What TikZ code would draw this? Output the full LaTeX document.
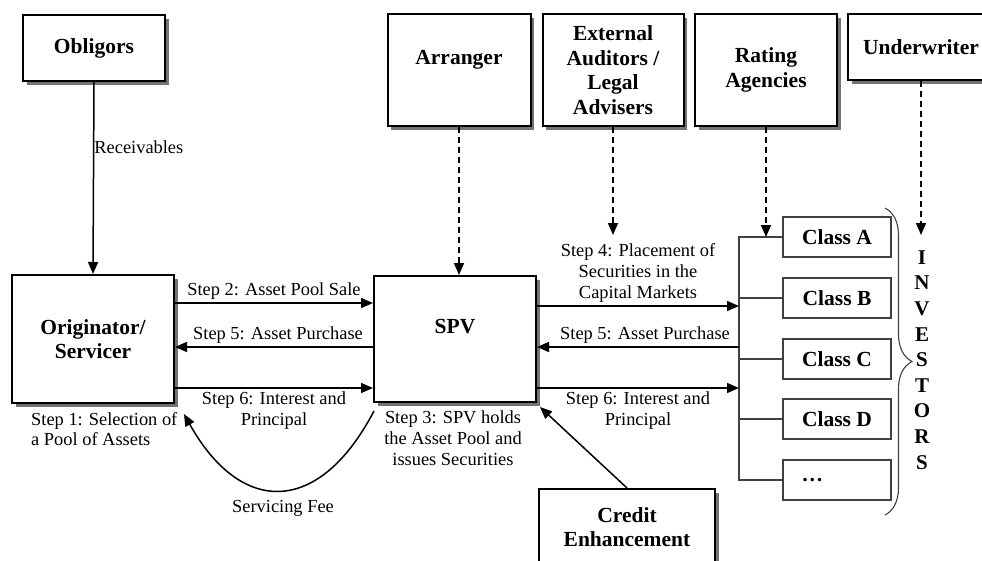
\documentclass[tikz,border=0pt]{standalone}
\usepackage{fontspec}
\setmainfont{Liberation Serif}
\usetikzlibrary{arrows.meta, decorations.pathreplacing}

\begin{document}
\begin{tikzpicture}[x=1pt, y=-1pt]
\tikzstyle{every node}+=[inner sep=0pt]
\tikzstyle{party}=[draw, line width=2pt, fill=white, align=center, font=\fontsize{21.5}{24.5}\selectfont\bfseries, preaction={fill=black!55, transform canvas={xshift=3.5pt, yshift=-3.5pt}}]
\tikzstyle{tranche}=[draw=black!75, line width=1.1pt, fill=white, minimum width=108pt, minimum height=40pt, font=\fontsize{21.5}{24.5}\selectfont\bfseries]
\tikzstyle{flow}=[line width=1.5pt, -{Triangle[length=12pt,width=10pt]}]
\tikzstyle{advice}=[flow, dash pattern=on 6pt off 4pt]
\tikzstyle{note}=[font=\fontsize{18.4}{20.8}\selectfont, align=center]
\useasboundingbox (0,0) rectangle (982,560);

\node[party, minimum width=142pt, minimum height=66pt] (obl) at (94,48) {Obligors};
\node[party, minimum width=162pt, minimum height=128pt] (orig) at (93,339) {Originator/\\Servicer};
\node[party, minimum width=143pt, minimum height=112pt] (arr) at (459,70) {Arranger\\~};
\node[party, minimum width=141pt, minimum height=112pt] (ext) at (613,70) {External\\Auditors /\\Legal\\Advisers};
\node[party, minimum width=142pt, minimum height=112pt] (rat) at (766,70) {Rating\\Agencies};
\node[party, minimum width=146pt, minimum height=66pt] (und) at (921,47) {Underwriter};
\node[party, minimum width=162pt, minimum height=126pt] (spv) at (455,339) {SPV\\~};
\node[party, minimum width=176pt, minimum height=76pt] (cre) at (627,527) {Credit\\Enhancement};

\foreach \name/\txt/\y in {ca/Class A/237, cb/Class B/298, cc/Class C/359, cd/Class D/419, ce/\makebox[71pt][l]{\dots}/480}
  \node[tranche] (\name) at (837,\y) {\txt};
\node[font=\fontsize{21}{25.6}\selectfont\bfseries, align=center] (inv) at (922,360) {I\\N\\V\\E\\S\\T\\O\\R\\S};

\coordinate (bus) at (739,237);
\coordinate (placement) at (613,235);
\coordinate (syndicate) at (921,235);

% tranches hang off one bus
\draw[black!75, line width=1.1pt] (ca.west) -- (bus) -- (bus |- ce.west) -- (ce.west);
\foreach \name in {cb,cc,cd}
  \draw[black!75, line width=1.1pt] (\name.west) -- (\name.west -| bus);
\draw[black!75, line width=1.1pt, decorate, decoration={brace, amplitude=27pt}] (885,208) -- (885,515);

\draw[flow] (obl.south) -- (orig.north) node[pos=0.34, right, note] {Receivables};
\draw[flow] ([yshift=36pt]orig.east) -- ([yshift=36pt]orig.east -| spv.west) node[midway, above=3pt, note] {Step 2: Asset Pool Sale};
\draw[flow] ([yshift=-8pt]spv.west) -- ([yshift=-8pt]spv.west -| orig.east) node[midway, above=3pt, note, xshift=4pt] {Step 5: Asset Purchase};
\draw[flow] ([yshift=-49pt]orig.east) -- ([yshift=-49pt]orig.east -| spv.west) node[midway, below=3pt, note] {Step 6: Interest and\\Principal};

\draw[flow] ([yshift=33pt]spv.east) -- ([yshift=33pt]spv.east -| bus) node[midway, above=3pt, note] {Step 4: Placement of\\Securities in the\\Capital Markets};
\draw[flow] ([yshift=-8pt]spv.east -| bus) -- ([yshift=-8pt]spv.east) node[midway, above=3pt, note, xshift=7pt] {Step 5: Asset Purchase};
\draw[flow] ([yshift=-49pt]spv.east) -- ([yshift=-49pt]spv.east -| bus) node[midway, below=3pt, note] {Step 6: Interest and\\Principal};

\draw[advice] (arr.south) -- (arr.south |- spv.north);
\draw[advice] (ext.south) -- (placement);
\draw[advice] (rat.south) -- (rat.south |- bus);
\draw[advice] (und.south) -- (syndicate);

\draw[flow] (cre.north) -- ([xshift=3pt,yshift=-4pt]spv.south east);
\draw[flow] ([xshift=1pt,yshift=-8pt]spv.south west) .. controls +(-55,105) and +(57,102) .. ([xshift=9pt,yshift=-10pt]orig.south east);

\node[note, anchor=north west, align=left] (select) at (31,412) {Step 1: Selection of\\a Pool of Assets};
\node[note, anchor=north] (holds) at (453,411) {Step 3: SPV holds\\the Asset Pool and\\issues Securities};
\node[note] (fee) at (283,508) {Servicing Fee};
\end{tikzpicture}
\end{document}
